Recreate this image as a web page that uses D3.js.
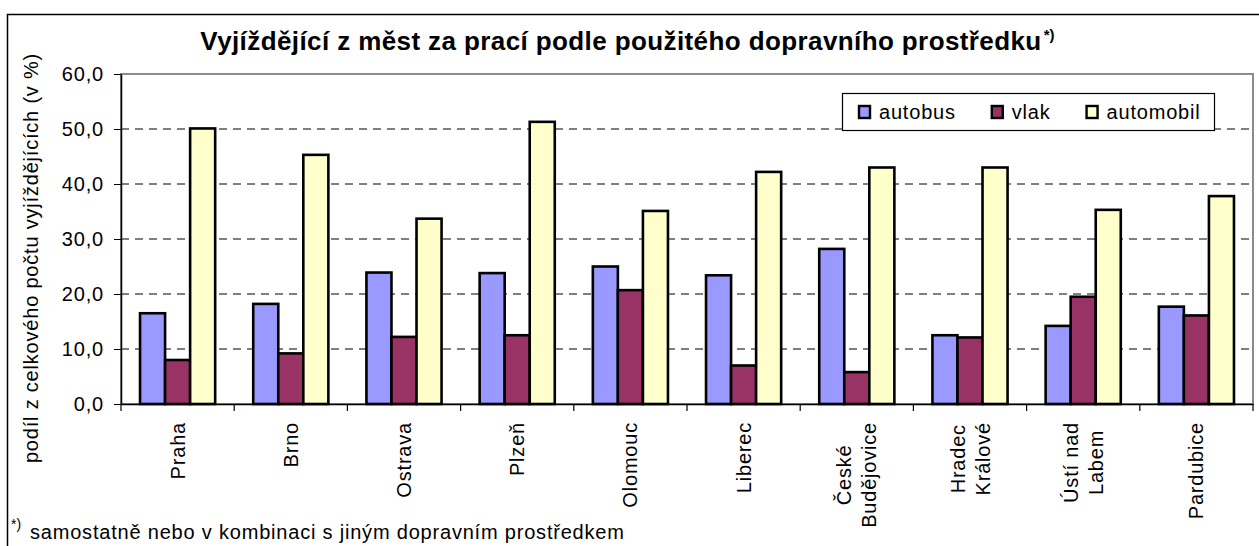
<!DOCTYPE html>
<html>
<head>
<meta charset="utf-8">
<script src="https://cdn.jsdelivr.net/npm/d3@7"></script>
<style>
	body { margin: 0; background: #fff; }
	svg { display: block; font-family: "Liberation Sans", Arial, sans-serif; }
	.lbl { font-size: 20px; letter-spacing: 0.8px; fill: #000; }
	.yAxis path, .xAxis path { stroke: #000; stroke-width: 1.5; }
	.yAxis line, .xAxis line { stroke: #000; }
</style>
</head>
<body>
<div class="chart"></div>
<script>
var WIDTH = 1259,
	HEIGHT = 546;

// plot area
var LEFT = 121, RIGHT = 1253, TOP = 74, BOTTOM = 404;

var categories = [
	["Praha"], ["Brno"], ["Ostrava"], ["Plzeň"], ["Olomouc"], ["Liberec"],
	["České", "Budějovice"], ["Hradec", "Králové"], ["Ústí nad", "Labem"], ["Pardubice"]
];
var seriesNames = ["autobus", "vlak", "automobil"];
var seriesColors = ["#9999ff", "#993366", "#ffffcc"];

var autobus   = [16.5, 18.2, 23.9, 23.8, 25.0, 23.4, 28.2, 12.5, 14.2, 17.7];
var vlak      = [8.0, 9.2, 12.2, 12.5, 20.7, 7.0, 5.8, 12.1, 19.5, 16.1];
var automobil = [50.1, 45.3, 33.7, 51.3, 35.1, 42.2, 43.0, 43.0, 35.3, 37.8];

var yTicks = [0, 10, 20, 30, 40, 50, 60];

var titleText = "Vyjíždějící z měst za prací podle použitého dopravního prostředku";
var yTitle = "podíl z celkového počtu vyjíždějících (v %)";
var footText = "samostatně nebo v kombinaci s jiným dopravním prostředkem";

var seriesValues = [autobus, vlak, automobil];
var names = categories.map(function(c) { return c.join(" "); });

var svg = d3.select(".chart").append("svg")
	.attr("width", WIDTH)
	.attr("height", HEIGHT);

// outer frame (runs off the right and bottom edge like the original)
svg.append("rect")
	.attr("x", 7.5).attr("y", 14.5)
	.attr("width", 1300).attr("height", 600)
	.attr("fill", "#fff")
	.attr("stroke", "#000")
	.attr("stroke-width", 1.5);

var xScale = d3.scaleBand()
	.domain(names)
	.range([LEFT, RIGHT])
	.padding(0);

var xInner = d3.scaleBand()
	.domain(seriesNames)
	.range([0, xScale.bandwidth()])
	.paddingInner(0)
	.paddingOuter(0.76);

var yScale = d3.scaleLinear()
	.domain([0, 60])
	.range([BOTTOM, TOP]);

var cz = d3.formatLocale({ decimal: ",", thousands: " ", grouping: [3], currency: ["", " Kč"] });
var fmt = cz.format(".1f");

// plot area border
svg.append("rect")
	.attr("x", LEFT).attr("y", TOP)
	.attr("width", RIGHT - LEFT).attr("height", BOTTOM - TOP)
	.attr("fill", "none")
	.attr("stroke", "#8c8c8c")
	.attr("stroke-width", 2);

// gridlines
svg.append("g")
	.selectAll("line")
	.data(yTicks.filter(function(d) { return d > 0 && d < 60; }))
	.enter()
	.append("line")
	.attr("x1", LEFT).attr("x2", RIGHT)
	.attr("y1", function(d) { return yScale(d); })
	.attr("y2", function(d) { return yScale(d); })
	.attr("stroke", "#000")
	.attr("stroke-dasharray", "8,6");

// bars
var groups = svg.append("g")
	.selectAll("g")
	.data(names)
	.enter()
	.append("g")
	.attr("transform", function(d) { return "translate(" + xScale(d) + ",0)"; });

groups.selectAll("rect")
	.data(function(d, i) {
		return seriesNames.map(function(s, j) { return { key: s, value: seriesValues[j][i], color: seriesColors[j] }; });
	})
	.enter()
	.append("rect")
	.attr("x", function(d) { return xInner(d.key); })
	.attr("y", function(d) { return yScale(d.value); })
	.attr("width", xInner.bandwidth())
	.attr("height", function(d) { return BOTTOM - yScale(d.value); })
	.attr("fill", function(d) { return d.color; })
	.attr("stroke", "#000")
	.attr("stroke-width", 2.6);

// y axis
var yAxis = d3.axisLeft(yScale)
	.tickValues(yTicks)
	.tickSize(7)
	.tickSizeOuter(0)
	.tickPadding(10)
	.tickFormat(fmt);

var yAxisGroup = svg.append("g")
	.attr("class", "yAxis")
	.attr("transform", "translate(" + LEFT + ",0)")
	.call(yAxis);
yAxisGroup.selectAll("text")
	.attr("class", "lbl")
	.attr("font-family", null)
	.attr("font-size", null);

// x axis with ticks on band boundaries
var xAxis = d3.axisBottom(xScale)
	.tickSize(0)
	.tickSizeOuter(0)
	.tickFormat("");

svg.append("g")
	.attr("class", "xAxis")
	.attr("transform", "translate(0," + BOTTOM + ")")
	.call(xAxis);

svg.append("g")
	.selectAll("line")
	.data(names.map(function(d) { return xScale(d); }).concat([RIGHT]))
	.enter()
	.append("line")
	.attr("x1", function(d) { return d; })
	.attr("x2", function(d) { return d; })
	.attr("y1", BOTTOM)
	.attr("y2", BOTTOM + 7)
	.attr("stroke", "#000")
	.attr("stroke-width", 1.2);

// category labels, rotated, block top at 18px below the axis
var LABEL_TOP = BOTTOM + 18, LINE_GAP = 25;
names.forEach(function(n, i) {
	var lines = categories[i];
	var cx = xScale(n) + xScale.bandwidth() / 2;
	var g = svg.append("g");
	var texts = g.selectAll("text")
		.data(lines)
		.enter()
		.append("text")
		.attr("class", "lbl")
		.attr("text-anchor", "middle")
		.text(function(d) { return d; });
	var maxLen = d3.max(texts.nodes(), function(t) { return t.getComputedTextLength(); });
	var cy = LABEL_TOP + maxLen / 2;
	texts.attr("transform", function(d, k) {
		var x = cx + (k - (lines.length - 1) / 2) * LINE_GAP + 7;
		return "translate(" + x + "," + cy + ") rotate(-90)";
	});
});

// y title
svg.append("text")
	.attr("class", "lbl")
	.attr("text-anchor", "middle")
	.attr("transform", "translate(38,258) rotate(-90)")
	.text(yTitle);

// title
var title = svg.append("text")
	.attr("x", 621)
	.attr("y", 50)
	.attr("text-anchor", "middle")
	.attr("font-weight", "bold")
	.attr("font-size", 26)
	.attr("letter-spacing", 0.4)
	.text(titleText);
var tb = title.node().getBBox();
svg.append("text")
	.attr("x", tb.x + tb.width + 2)
	.attr("y", 40)
	.attr("font-weight", "bold")
	.attr("font-size", 15)
	.text("*)");

// legend
var legend = svg.append("g");
legend.append("rect")
	.attr("x", 842.5).attr("y", 93.5)
	.attr("width", 372).attr("height", 37)
	.attr("fill", "#fff")
	.attr("stroke", "#000")
	.attr("stroke-width", 1.2);
var lx = 859;
seriesNames.forEach(function(s, j) {
	legend.append("rect")
		.attr("x", lx).attr("y", 106)
		.attr("width", 11).attr("height", 12)
		.attr("fill", seriesColors[j])
		.attr("stroke", "#000")
		.attr("stroke-width", 2.4);
	var t = legend.append("text")
		.attr("class", "lbl")
		.attr("x", lx + 20)
		.attr("y", 119)
		.text(s);
	lx = lx + 20 + t.node().getComputedTextLength() + 36;
});

// footnote
svg.append("text")
	.attr("x", 11)
	.attr("y", 529)
	.attr("font-size", 14)
	.text("*)");
svg.append("text")
	.attr("class", "lbl")
	.attr("x", 30)
	.attr("y", 539)
	.text(footText);
</script>
</body>
</html>
